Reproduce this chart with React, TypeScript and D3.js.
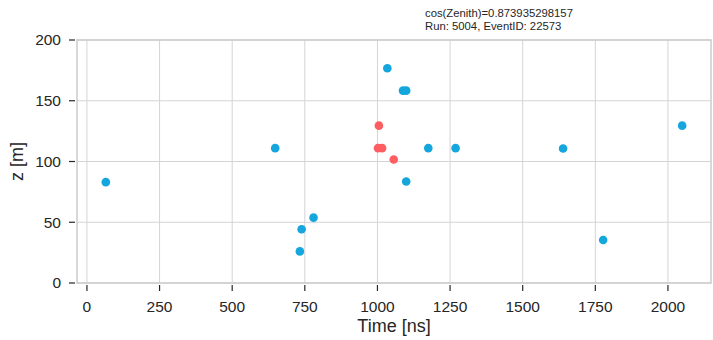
import { useEffect, useRef } from "react";
import * as d3 from "d3";

// hit times [ns] and depths [m]
const blueTime = [65, 648, 733, 739, 780, 1034, 1088, 1099, 1099, 1175, 1269, 1639, 1777, 2049];
const blueZ = [83, 111, 26, 44.2, 53.8, 176.7, 158.3, 158.3, 83.5, 111, 111, 110.7, 35.4, 129.5];
const redTime = [1002, 1005, 1016, 1056];
const redZ = [111, 129.5, 111, 101.7];

const xTicks = [0, 250, 500, 750, 1000, 1250, 1500, 1750, 2000];
const yTicks = [0, 50, 100, 150, 200];
const titleLines = ["cos(Zenith)=0.873935298157", "Run: 5004, EventID: 22573"];

const W = 713;
const H = 340;
const margin = { left: 77, right: 2, top: 40, bottom: 57 };
const FONT = "'Liberation Sans', Arial, sans-serif";

const App = () => {
  const svgRef = useRef<SVGSVGElement | null>(null);

  useEffect(() => {
    const svg = d3.select(svgRef.current);
    svg.selectAll("*").remove();

    const innerW = W - margin.left - margin.right;
    const innerH = H - margin.top - margin.bottom;

    // matplotlib-like 5% padding on x
    const allT = blueTime.concat(redTime);
    const [tMin, tMax] = d3.extent(allT) as [number, number];
    const pad = (tMax - tMin) * 0.05;

    const x = d3.scaleLinear().domain([tMin - pad, tMax + pad]).range([0, innerW]);
    const y = d3.scaleLinear().domain([0, 200]).range([innerH, 0]);

    const g = svg.append("g").attr("transform", `translate(${margin.left},${margin.top})`);

    // grid
    g.selectAll(".vgrid")
      .data(xTicks)
      .join("line")
      .attr("x1", (d) => x(d))
      .attr("x2", (d) => x(d))
      .attr("y1", 0)
      .attr("y2", innerH)
      .attr("stroke", "#d4d4d4")
      .attr("stroke-width", 1);
    g.selectAll(".hgrid")
      .data(yTicks)
      .join("line")
      .attr("x1", 0)
      .attr("x2", innerW)
      .attr("y1", (d) => y(d))
      .attr("y2", (d) => y(d))
      .attr("stroke", "#d4d4d4")
      .attr("stroke-width", 1);

    // frame
    g.append("rect")
      .attr("width", innerW)
      .attr("height", innerH)
      .attr("fill", "none")
      .attr("stroke", "#cccccc")
      .attr("stroke-width", 1.5);

    // ticks + labels
    const xAxis = g.append("g");
    xTicks.forEach((t) => {
      xAxis
        .append("line")
        .attr("x1", x(t))
        .attr("x2", x(t))
        .attr("y1", innerH + 2)
        .attr("y2", innerH + 8)
        .attr("stroke", "#262626")
        .attr("stroke-width", 1.2);
      xAxis
        .append("text")
        .attr("x", x(t))
        .attr("y", innerH + 29)
        .attr("text-anchor", "middle")
        .attr("font-family", FONT)
        .attr("font-size", 15.5)
        .attr("fill", "#262626")
        .text(t);
    });

    const yAxis = g.append("g");
    yTicks.forEach((t) => {
      yAxis
        .append("line")
        .attr("x1", -8)
        .attr("x2", -2)
        .attr("y1", y(t))
        .attr("y2", y(t))
        .attr("stroke", "#262626")
        .attr("stroke-width", 1.2);
      yAxis
        .append("text")
        .attr("x", -16)
        .attr("y", y(t))
        .attr("dy", "0.35em")
        .attr("text-anchor", "end")
        .attr("font-family", FONT)
        .attr("font-size", 15.5)
        .attr("fill", "#262626")
        .text(t);
    });

    // axis titles
    g.append("text")
      .attr("x", innerW / 2)
      .attr("y", innerH + 49)
      .attr("text-anchor", "middle")
      .attr("font-family", FONT)
      .attr("font-size", 18)
      .attr("fill", "#262626")
      .text("Time [ns]");
    g.append("text")
      .attr("transform", `translate(-54,${innerH / 2}) rotate(-90)`)
      .attr("text-anchor", "middle")
      .attr("font-family", FONT)
      .attr("font-size", 18)
      .attr("fill", "#262626")
      .text("z [m]");

    // points
    const blue = blueTime.map((t, i) => ({ t, z: blueZ[i] }));
    const red = redTime.map((t, i) => ({ t, z: redZ[i] }));
    g.selectAll(".blue")
      .data(blue)
      .join("circle")
      .attr("cx", (d) => x(d.t))
      .attr("cy", (d) => y(d.z))
      .attr("r", 4.3)
      .attr("fill", "#14a6dd");
    g.selectAll(".red")
      .data(red)
      .join("circle")
      .attr("cx", (d) => x(d.t))
      .attr("cy", (d) => y(d.z))
      .attr("r", 4.3)
      .attr("fill", "#fd5e62");

    // title
    titleLines.forEach((line, i) => {
      svg
        .append("text")
        .attr("x", 425)
        .attr("y", 17 + i * 13)
        .attr("font-family", FONT)
        .attr("font-size", 11.3)
        .attr("fill", "#262626")
        .text(line);
    });
  }, []);

  return (
    <svg
      ref={svgRef}
      width={W}
      height={H}
      style={{ position: "absolute", left: 0, top: 0, background: "#fff" }}
    />
  );
};

export default App;
